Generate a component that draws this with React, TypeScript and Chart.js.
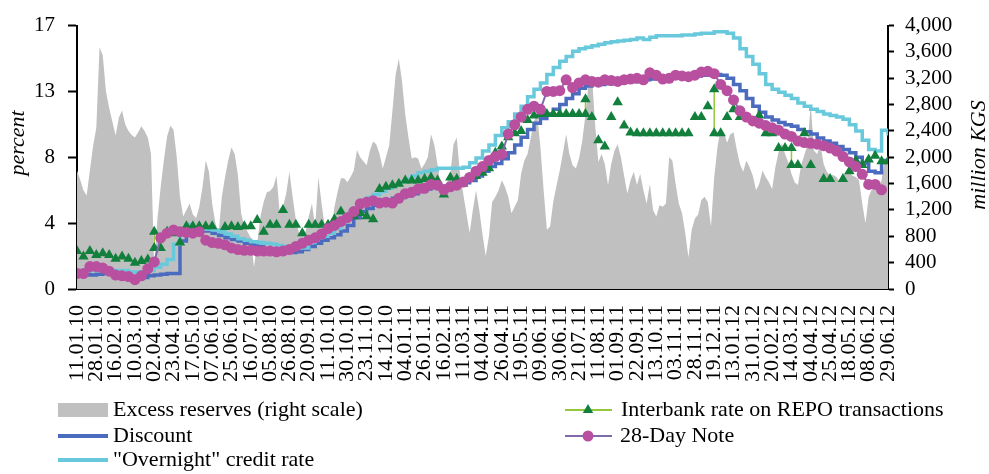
import React, { useEffect, useRef } from 'react';
import { Chart, registerables } from 'chart.js';

Chart.register(...registerables);

const FONT = "'Liberation Serif', 'Times New Roman', serif";

// tick labels (one every 3 weeks)
const dateLabels = [
  '11.01.10', '28.01.10', '16.02.10', '10.03.10', '02.04.10', '23.04.10', '17.05.10', '07.06.10',
  '25.06.10', '16.07.10', '05.08.10', '26.08.10', '20.09.10', '11.10.10', '30.10.10', '23.11.10',
  '14.12.10', '04.01.11', '26.01.11', '16.02.11', '11.03.11', '04.04.11', '26.04.11', '19.05.11',
  '09.06.11', '30.06.11', '21.07.11', '11.08.11', '01.09.11', '22.09.11', '13.10.11', '03.11.11',
  '28.11.11', '19.12.11', '13.01.12', '31.01.12', '20.02.12', '14.03.12', '04.04.12', '25.04.12',
  '18.05.12', '08.06.12', '29.06.12',
];

const leftTickValues = [0, 4.25, 8.5, 12.75, 17];
const leftTickLabels = ['0', '4', '8', '13', '17'];

// Excess reserves, million KGS (half-weekly)
const excessReserves = [
  1800, 1660, 1500, 1420, 1800, 2170, 2450, 3670, 3550, 3000,
  2750, 2540, 2330, 2600, 2710, 2500, 2400, 2340, 2300, 2380,
  2470, 2400, 2300, 2050, 330, 1070, 1550, 1960, 2320, 2480,
  2420, 2000, 1400, 1100, 1200, 1300, 1130, 1080, 1250, 1550,
  1950, 1780, 1300, 1000, 850, 1400, 1700, 1960, 2150, 2050,
  1730, 1150, 950, 870, 780, 330, 700, 1100, 1320, 1470,
  1490, 1550, 1720, 1150, 1250, 1450, 1780, 1400, 1050, 850,
  820, 870, 1100, 1300, 950, 1700, 1300, 950, 850, 900,
  1250, 1480, 1680, 1680, 1620, 1700, 1800, 2110, 2000, 1940,
  1880, 2100, 2240, 2200, 2050, 1830, 2000, 2180, 2700, 3250,
  3500, 3150, 2650, 2300, 1980, 2000, 1980, 1830, 1900, 2000,
  2350, 2200, 1900, 1580, 1500, 1620, 1750, 2200, 2300, 1750,
  1450, 1150, 850, 1200, 1500, 1200, 830, 500, 800, 1320,
  1400, 1500, 1650, 1550, 1400, 1150, 1250, 1350, 1750, 1950,
  2050, 2300, 2550, 2650, 2150, 1500, 900, 950, 1330, 1570,
  1800, 2070, 2350, 2050, 1880, 1830, 1980, 2250, 2650, 3150,
  3250, 2500, 1930, 2050, 1900, 1580, 1900, 2100, 2200, 2000,
  1720, 1450, 1650, 1780, 1580, 1750, 1500, 1300, 1600, 1200,
  1100, 1270, 1250, 1300, 2000, 1950, 1600, 1300, 1150, 850,
  480, 900, 1070, 1130, 1350, 1400, 1320, 950, 1700, 2150,
  2450, 2380, 2220, 2350, 2380, 2120, 1900, 1780, 1950, 1850,
  1720, 1500, 1600, 1800, 1700, 1620, 1520, 1850, 2080, 2210,
  2050, 1930, 1750, 1620, 1580, 1880, 2030, 2200, 2800, 2100,
  2050, 2200, 1900, 1780, 1720, 1730, 1700, 1620, 1700, 1800,
  1760, 1720, 1700, 1650, 1300, 1000, 1400, 1520, 1500, 1550,
  1650, 1950, 2000,
];

// weekly rates, percent
const discountRate = [
  0.95, 0.95, 0.9, 0.95, 1.0, 1.0, 0.9, 0.85, 0.8, 0.75,
  0.75, 0.85, 0.9, 0.95, 1.0, 1.0, 3.1, 3.85, 3.85, 3.85,
  3.75, 3.6, 3.45, 3.3, 3.2, 3.1, 2.95, 2.85, 2.75, 2.6,
  2.5, 2.45, 2.4, 2.35, 2.4, 2.55, 2.75, 2.95, 3.15, 3.3,
  3.5, 3.75, 4.1, 4.6, 5.0, 5.2, 5.4, 5.55, 5.7, 5.85,
  5.9, 6.0, 6.15, 6.3, 6.45, 6.55, 6.6, 6.65, 6.7, 6.75,
  6.85, 7.0, 7.3, 7.6, 7.9, 8.1, 8.4, 8.8, 9.3, 9.8,
  10.3, 10.7, 11.0, 11.3, 11.6, 11.9, 12.3, 12.6, 12.95, 13.1,
  13.2, 13.2, 13.25, 13.3, 13.3, 13.35, 13.4, 13.4, 13.5, 13.55,
  13.6, 13.6, 13.65, 13.7, 13.7, 13.75, 13.75, 13.8, 13.8, 13.85,
  13.8, 13.6, 13.2, 12.8, 12.3, 11.8, 11.4, 11.1, 10.9, 10.75,
  10.6, 10.5, 10.3, 10.15, 10.0, 9.75, 9.55, 9.4, 9.2, 9.0,
  8.8, 8.5, 8.1, 7.6, 7.5, 8.3, 8.3,
];

const overnightRate = [
  1.2, 1.2, 1.2, 1.2, 1.2, 1.2, 1.2, 1.2, 1.1, 1.1,
  1.1, 1.2, 1.4, 1.6, 1.9, 2.9, 3.7, 4.15, 3.9, 3.85,
  3.85, 3.8, 3.7, 3.55, 3.4, 3.25, 3.15, 3.05, 3.0, 2.95,
  2.9, 2.8, 2.75, 2.7, 2.65, 2.65, 3.0, 3.3, 3.4, 3.6,
  3.9, 4.4, 4.8, 5.2, 5.5, 5.9, 6.1, 6.3, 6.5, 6.7,
  6.9, 7.1, 7.3, 7.5, 7.6, 7.7, 7.8, 7.8, 7.8, 7.8,
  7.85, 8.15, 8.45, 8.9, 9.3, 9.9, 10.4, 10.8, 11.3, 11.8,
  12.4, 12.9, 13.3, 13.85, 14.3, 14.7, 15.0, 15.35, 15.5, 15.6,
  15.7, 15.8, 15.9, 15.95, 16.0, 16.05, 16.1, 16.2, 16.1, 16.25,
  16.35, 16.35, 16.35, 16.35, 16.4, 16.4, 16.45, 16.5, 16.5, 16.6,
  16.6, 16.5, 16.2, 15.5, 15.0, 14.5, 13.9, 13.2, 12.9, 12.7,
  12.5, 12.3, 12.0, 11.8, 11.6, 11.45, 11.3, 11.2, 11.1, 10.95,
  10.6, 10.2, 9.6, 9.0, 8.9, 10.25, 9.9,
];

const noteRate = [
  1.0, 1.0, 1.45, 1.45, 1.35, 1.15, 0.9, 0.85, 0.8, 0.6,
  0.85, 1.3, 1.75, 3.3, 3.6, 3.8, 3.7, 3.65, 3.6, 3.7,
  3.15, 3.0, 2.95, 2.85, 2.65, 2.55, 2.5, 2.5, 2.45, 2.45,
  2.45, 2.4, 2.45, 2.55, 2.75, 2.95, 3.15, 3.3, 3.55, 3.9,
  4.1, 4.35, 4.6, 5.0, 5.5, 5.6, 5.7, 5.55, 5.6, 5.55,
  5.85, 6.15, 6.25, 6.45, 6.5, 6.75, 6.7, 6.4, 6.6, 6.7,
  6.9, 7.2, 7.6, 7.9, 8.3, 8.55, 8.7, 10.0, 10.6, 11.1,
  11.6, 11.8, 11.6, 12.75, 12.75, 12.8, 13.5, 13.0, 13.3, 13.5,
  13.4, 13.35, 13.5, 13.45, 13.4, 13.5, 13.55, 13.6, 13.5, 13.95,
  13.8, 13.55, 13.6, 13.8, 13.75, 13.7, 13.8, 14.0, 14.05, 13.9,
  13.2, 12.8, 12.2, 11.5, 11.1, 10.85, 10.7, 10.55, 10.4, 10.25,
  10.0, 9.85, 9.55, 9.45, 9.4, 9.35, 9.25, 9.1, 8.9, 8.55,
  8.2, 7.9, 7.4, 6.75, 6.75, 6.4, null,
];

const interbankRate = [
  2.45, 2.1, 2.45, 2.2, 2.3, 2.2, 1.95, 2.1, 1.95, 1.7,
  1.8, 1.9, 3.7, 2.65, 3.7, 3.6, 3.0, 4.05, 4.05, 4.05,
  4.05, 4.05, null, 4.0, 4.05, 4.0, 4.05, 4.05, 4.45, 3.7,
  4.15, 4.15, 5.1, 4.15, 4.15, 3.6, 4.15, 4.15, 4.15, 4.15,
  4.5, 5.0, 4.6, 4.7, 4.9, 4.7, 4.5, 6.45, 6.6, 6.7,
  6.8, 7.0, 7.0, 7.0, 7.1, 7.2, 7.0, 6.1, 7.2, 7.1,
  6.8, 7.1, 7.3, 7.5, 7.8, 8.8, 9.2, 9.8, 10.05, 10.2,
  10.9, 11.2, 11.3, 11.3, 11.3, 11.3, 11.3, 11.3, 11.3, 12.25,
  11.1, 9.6, 9.2, 11.1, 12.05, 10.55, 10.1, 10.05, 10.05, 10.05,
  10.05, 10.05, 10.05, 10.05, 10.05, 10.05, 11.1, 11.1, 11.8, 12.9,
  10.05, 11.1, 11.6, 11.1, null, null, 11.2, 10.05, 10.05, 9.1,
  9.1, 9.1, 8.0, 10.05, 8.0, null, 7.1, 7.1, null, 7.1,
  7.6, 8.3, 8.0, 8.35, 8.6, 8.25, 8.25,
];

// second same-week interbank quotes: [week index, rate]
const interbankExtraWeeks = [12, 79, 99, 111];
const interbankExtraRates = [2.65, 11.3, 10.05, 8.0];

const COLORS = {
  reserves: '#C0C0C0',
  discount: '#4A6BBE',
  overnight: '#68C9DC',
  interbankLine: '#96C83C',
  interbankPoint: '#12803C',
  noteLine: '#7F6AAB',
  notePoint: '#B94F9F',
};

const legendAndTitles = {
  id: 'legendAndTitles',
  afterDraw(chart: any) {
    const ctx = chart.ctx;
    ctx.save();
    // axis titles
    ctx.fillStyle = '#000';
    ctx.font = `italic 22px ${FONT}`;
    ctx.textAlign = 'center';
    ctx.textBaseline = 'middle';
    ctx.save();
    ctx.translate(18, 143);
    ctx.rotate(-Math.PI / 2);
    ctx.fillText('percent', 0, 0);
    ctx.restore();
    ctx.save();
    ctx.translate(979, 155);
    ctx.rotate(-Math.PI / 2);
    ctx.fillText('million KGS', 0, 0);
    ctx.restore();

    // legend
    ctx.font = `22px ${FONT}`;
    ctx.textAlign = 'left';
    ctx.textBaseline = 'middle';
    const r1 = 410, r2 = 436, r3 = 460;
    ctx.fillStyle = COLORS.reserves;
    ctx.fillRect(58, 403, 50, 14);
    ctx.fillStyle = '#000';
    ctx.fillText('Excess reserves (right scale)', 113, r1);

    ctx.lineWidth = 4;
    ctx.strokeStyle = COLORS.discount;
    ctx.beginPath(); ctx.moveTo(58, r2); ctx.lineTo(108, r2); ctx.stroke();
    ctx.fillText('Discount', 113, r2);

    ctx.strokeStyle = COLORS.overnight;
    ctx.beginPath(); ctx.moveTo(58, r3); ctx.lineTo(108, r3); ctx.stroke();
    ctx.fillText('"Overnight" credit rate', 113, r3);

    ctx.lineWidth = 2;
    ctx.strokeStyle = COLORS.interbankLine;
    ctx.beginPath(); ctx.moveTo(565, r1); ctx.lineTo(612, r1); ctx.stroke();
    const tr = 6;
    ctx.fillStyle = COLORS.interbankPoint;
    ctx.beginPath();
    ctx.moveTo(588, r1 - tr);
    ctx.lineTo(588 + tr * 0.866, r1 + tr * 0.5);
    ctx.lineTo(588 - tr * 0.866, r1 + tr * 0.5);
    ctx.closePath();
    ctx.fill();
    ctx.fillStyle = '#000';
    ctx.fillText('Interbank rate on REPO transactions', 621, r1);

    ctx.strokeStyle = COLORS.noteLine;
    ctx.beginPath(); ctx.moveTo(565, r2); ctx.lineTo(612, r2); ctx.stroke();
    ctx.fillStyle = COLORS.notePoint;
    ctx.beginPath(); ctx.arc(588, r2, 5.5, 0, Math.PI * 2); ctx.fill();
    ctx.fillStyle = '#000';
    ctx.fillText('28-Day Note', 620, r2);
    ctx.restore();
  },
};

export default function App() {
  const ref = useRef<HTMLCanvasElement>(null);
  useEffect(() => {
    if (!ref.current) return;
    Chart.defaults.font.family = FONT;
    Chart.defaults.color = '#000';
    const weekly = (arr: (number | null)[]) => arr.map((v, i) => ({ x: i, y: v }));
    const halfWeekly = excessReserves.map((v, i) => ({ x: i / 2, y: v }));
    const interbankPoints: { x: number; y: number | null }[] = [];
    interbankRate.forEach((v, i) => {
      interbankPoints.push({ x: i, y: v });
      interbankExtraWeeks.forEach((w, k) => {
        if (w === i) interbankPoints.push({ x: i, y: interbankExtraRates[k] });
      });
    });
    const tickFont = { family: FONT, size: 21 };

    const chart = new Chart(ref.current, {
      type: 'line',
      data: {
        datasets: [
          {
            label: 'Excess reserves (right scale)',
            data: halfWeekly,
            yAxisID: 'y1',
            backgroundColor: COLORS.reserves,
            borderWidth: 0,
            borderColor: COLORS.reserves,
            fill: 'origin',
            pointRadius: 0,
            order: 5,
          },
          {
            label: 'Discount',
            data: weekly(discountRate),
            yAxisID: 'y',
            borderColor: COLORS.discount,
            borderWidth: 3.5,
            stepped: true,
            pointRadius: 0,
            fill: false,
            order: 4,
          },
          {
            label: '"Overnight" credit rate',
            data: weekly(overnightRate),
            yAxisID: 'y',
            borderColor: COLORS.overnight,
            borderWidth: 3.5,
            stepped: true,
            pointRadius: 0,
            fill: false,
            order: 3,
          },
          {
            label: 'Interbank rate on REPO transactions',
            data: interbankPoints,
            yAxisID: 'y',
            borderColor: COLORS.interbankLine,
            borderWidth: 1.5,
            segment: {
              borderColor: (c: any) => {
                const dx = Math.abs(c.p1.x - c.p0.x);
                const dy = Math.abs(c.p1.y - c.p0.y);
                return dx < 1 || dy < 3 ? COLORS.interbankLine : 'rgba(0,0,0,0)';
              },
            },
            pointStyle: 'triangle',
            pointRadius: 6,
            pointBackgroundColor: COLORS.interbankPoint,
            pointBorderColor: COLORS.interbankPoint,
            pointBorderWidth: 0,
            spanGaps: false,
            fill: false,
            order: 2,
          },
          {
            label: '28-Day Note',
            data: weekly(noteRate),
            yAxisID: 'y',
            borderColor: COLORS.noteLine,
            borderWidth: 2,
            pointStyle: 'circle',
            pointRadius: 5.5,
            pointBackgroundColor: COLORS.notePoint,
            pointBorderColor: COLORS.notePoint,
            pointBorderWidth: 0,
            spanGaps: true,
            fill: false,
            order: 1,
          },
        ],
      },
      options: {
        animation: false,
        responsive: true,
        maintainAspectRatio: false,
        layout: { padding: { top: 20, left: 0, right: 0, bottom: 0 } },
        plugins: {
          legend: { display: false },
          tooltip: { enabled: false },
        },
        elements: { line: { tension: 0 } },
        scales: {
          x: {
            type: 'linear',
            min: 0,
            max: (dateLabels.length - 1) * 3,
            offset: false,
            grid: { display: false },
            border: { display: true, color: '#000', width: 2 },
            afterBuildTicks: (s: any) => {
              s.ticks = dateLabels.map((_, i) => ({ value: i * 3 }));
            },
            ticks: {
              autoSkip: false,
              maxRotation: 90,
              minRotation: 90,
              padding: 8,
              color: '#000',
              font: { family: FONT, size: 22 },
              callback: (_v: any, i: number) => dateLabels[i],
            },
            afterFit: (s: any) => { s.height = 185; },
          },
          y: {
            type: 'linear',
            position: 'left',
            min: 0,
            max: 17,
            afterBuildTicks: (s: any) => {
              s.ticks = leftTickValues.map((v) => ({ value: v }));
            },
            ticks: {
              autoSkip: false,
              padding: 13,
              color: '#000',
              font: tickFont,
              callback: (_v: any, i: number) => leftTickLabels[i],
            },
            grid: {
              display: true,
              drawOnChartArea: false,
              drawTicks: true,
              tickLength: 9,
              tickColor: '#000',
              tickWidth: 2,
            },
            border: { display: true, color: '#000', width: 2 },
            afterFit: (s: any) => { s.width = 77; },
          },
          y1: {
            type: 'linear',
            position: 'right',
            min: 0,
            max: 4000,
            ticks: {
              stepSize: 400,
              autoSkip: false,
              padding: 11,
              color: '#000',
              font: tickFont,
              callback: (v: any) => Number(v).toLocaleString('en-US'),
            },
            grid: {
              display: true,
              drawOnChartArea: false,
              drawTicks: true,
              tickLength: 6,
              tickColor: '#000',
              tickWidth: 2,
            },
            border: { display: true, color: '#000', width: 2 },
            afterFit: (s: any) => { s.width = 101; },
          },
        },
      },
      plugins: [legendAndTitles],
    } as any);
    return () => chart.destroy();
  }, []);

  return (
    <div style={{ position: 'absolute', left: 0, top: 0, width: 989, height: 474, background: '#fff' }}>
      <canvas ref={ref} />
    </div>
  );
}
